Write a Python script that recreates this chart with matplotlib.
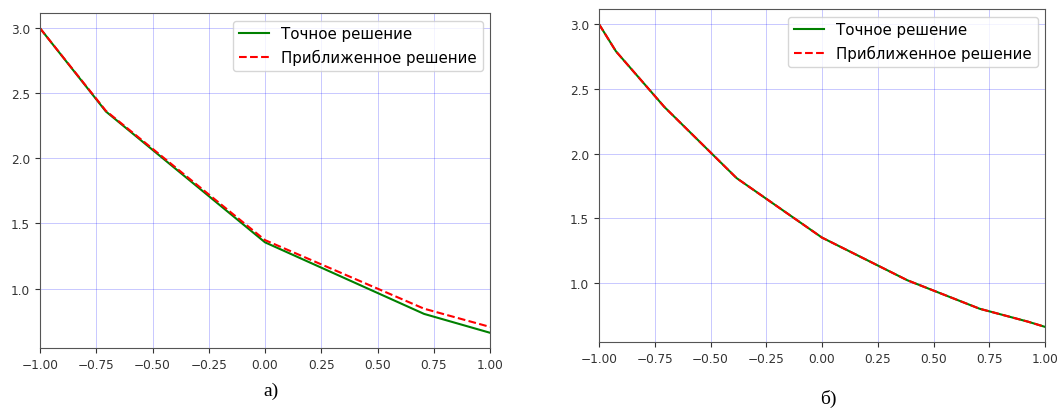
import matplotlib
matplotlib.use("Agg")
import matplotlib.pyplot as plt

# узлы и значения решений
x_a = [-1.0, -0.707, 0.0, 0.707, 1.0]
exact_a = [3.0, 2.36, 1.355, 0.805, 0.66]
approx_a = [3.0, 2.365, 1.372, 0.845, 0.705]

x_b = [-1.0, -0.924, -0.707, -0.383, 0.0, 0.383, 0.707, 0.924, 1.0]
exact_b = [3.0, 2.79, 2.36, 1.81, 1.35, 1.02, 0.80, 0.70, 0.66]
approx_b = [3.0, 2.79, 2.36, 1.81, 1.35, 1.02, 0.80, 0.70, 0.66]

labels = ["Точное решение", "Приближенное решение"]
captions = ["а)", "б)"]
xticks = [-1.0, -0.75, -0.5, -0.25, 0.0, 0.25, 0.5, 0.75, 1.0]

fig = plt.figure(figsize=(10.58, 4.10), dpi=100)
ax1 = fig.add_axes([40 / 1058, 1 - 349 / 410, 450 / 1058, 335 / 410])
ax2 = fig.add_axes([599 / 1058, 1 - 343 / 410, 446 / 1058, 333 / 410])

for ax, x, ex, ap in [(ax1, x_a, exact_a, approx_a), (ax2, x_b, exact_b, approx_b)]:
    ax.plot(x, ex, color="green", linewidth=1.5, label=labels[0])
    ax.plot(x, ap, color="red", linestyle="--", linewidth=1.5, label=labels[1])
    ax.set_xlim(-1, 1)
    ax.set_xticks(xticks)
    ax.grid(True, color="blue", linestyle="-", linewidth=0.7, alpha=0.22)
    ax.tick_params(labelsize=8.7, colors="#333333")
    for sp in ax.spines.values():
        sp.set_color("#555555")
    ax.legend(loc="upper right", fontsize=10.8)

fig.text(271 / 1058, 1 - 391 / 410, captions[0], ha="center", va="center",
         fontsize=14, family="Liberation Serif")
fig.text(828 / 1058, 1 - 399 / 410, captions[1], ha="center", va="center",
         fontsize=14, family="Liberation Serif")

fig.savefig("out.png", dpi=100)
